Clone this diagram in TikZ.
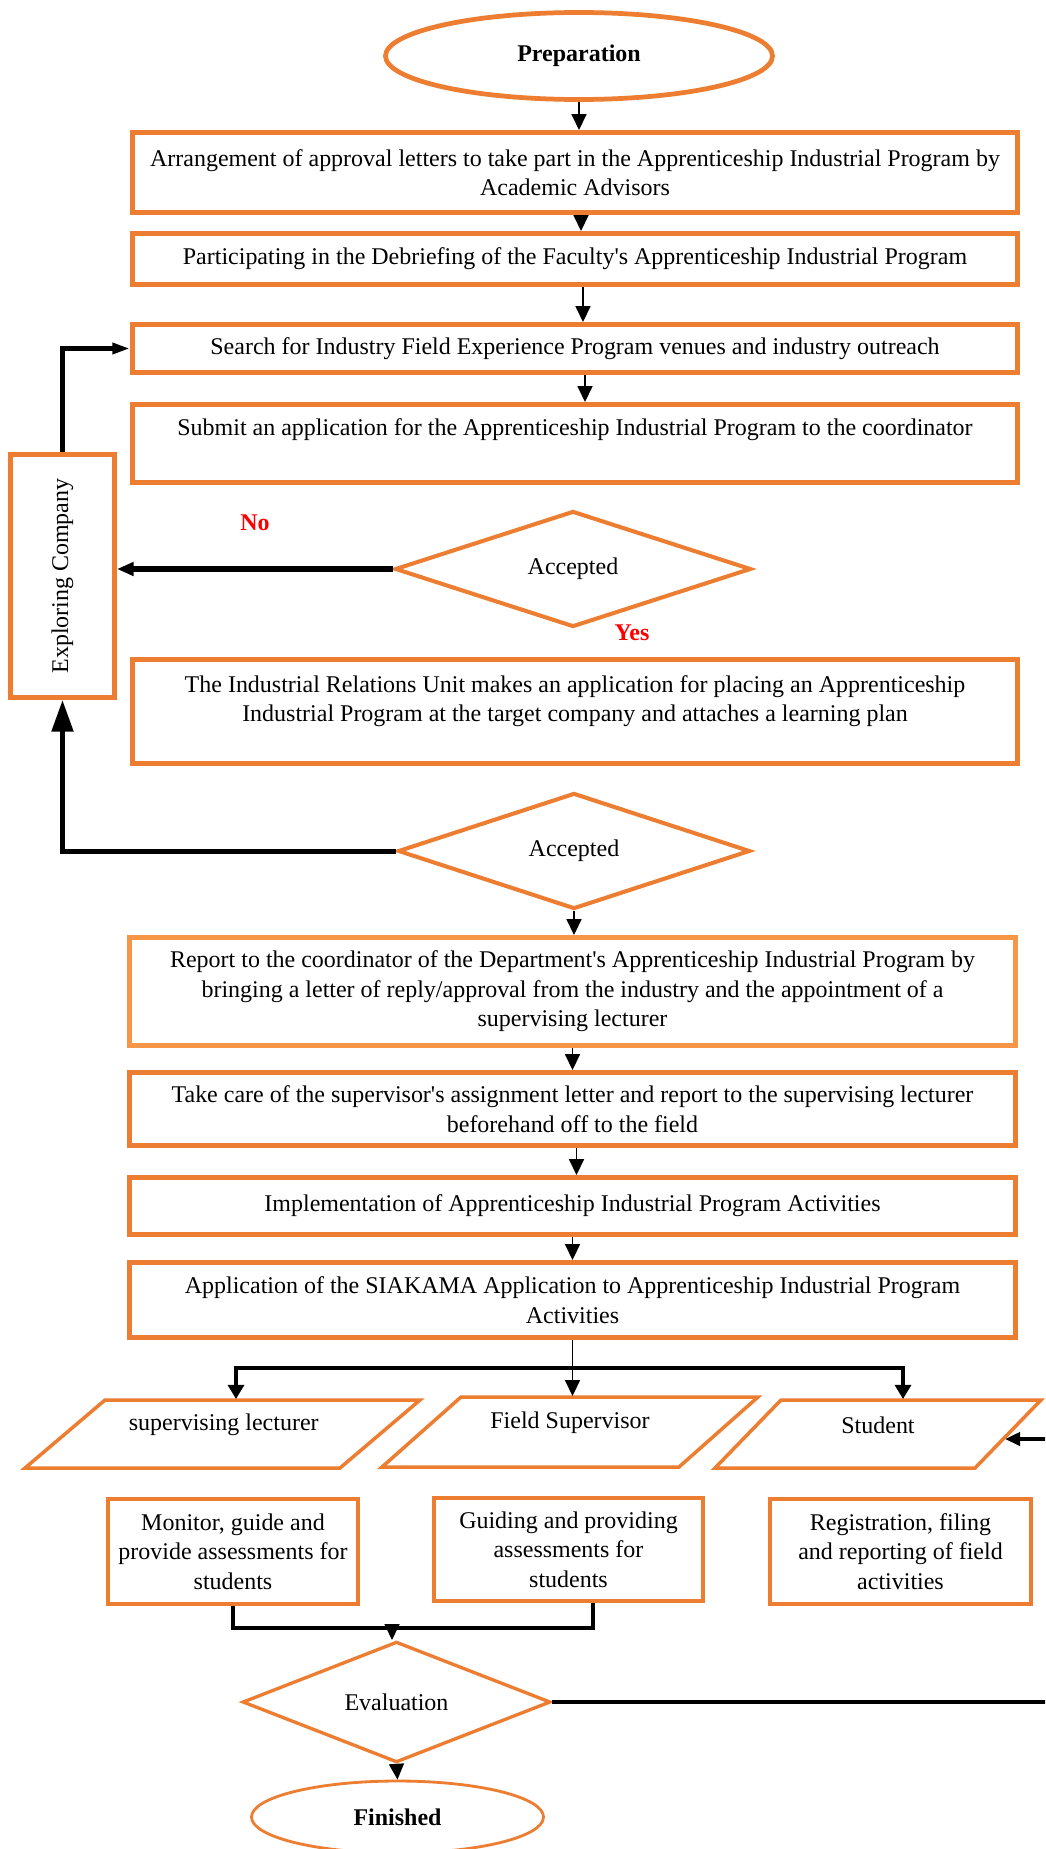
\documentclass[tikz,border=0pt]{standalone}
\usepackage{graphicx}
\usepackage{fontspec}
\setmainfont{Liberation Serif}
\usetikzlibrary{shapes.geometric,arrows.meta,calc}
\definecolor{orA}{HTML}{ED7D31}
\definecolor{orB}{HTML}{F79646}
\definecolor{redT}{HTML}{FF0000}
\def\pxu{0.02cm}
\newcommand\upby[2]{\raisebox{#1}[\height][\depth]{#2}}
\newcommand\apo{\textquotesingle}
\begin{document}
\begin{tikzpicture}[x=0.02cm,y=-0.02cm,
  every node/.style={font=\fontsize{13.65}{16.8}\selectfont},
  box/.style={draw=orA, line width=2.85pt, rectangle, align=center, inner sep=0pt, minimum width=885*\pxu},
  sbox/.style={draw=orA, line width=2pt, rectangle, align=center, inner sep=0pt},
  term/.style={ellipse, draw=orA, inner sep=0pt, font=\fontsize{13.65}{16.8}\selectfont\bfseries},
  dec/.style={diamond, draw=orA, line width=2.3pt, inner sep=0pt},
  io/.style={rectangle, inner sep=0pt, outer sep=0pt},
  ioline/.style={draw=orA, line width=2pt, line join=miter},
  tarr/.style={line width=0.85pt, -{Triangle[length=9pt,width=8.5pt]}},
  lbl/.style={text=redT, font=\fontsize{13.65}{16.8}\selectfont\bfseries}
]
\useasboundingbox (0,0) rectangle (1045,1849);
\clip (0,0) rectangle (1045,1849);
\fill[white] (0,0) rectangle (1045,1849);

% nodes
\node[term, line width=2.7pt, minimum width=387*\pxu, minimum height=87*\pxu] (prep) at (579,56) {Preparation};
\node[box, minimum height=80*\pxu] (b1) at (575,172.5) {Arrangement of approval letters to take part in the Apprenticeship Industrial Program by\\Academic Advisors};
\node[box, minimum height=51*\pxu] (b2) at (575,259) {Participating in the Debriefing of the Faculty\apo s Apprenticeship Industrial Program};
\node[box, minimum height=48*\pxu] (b3) at (575,348.5) {Search for Industry Field Experience Program venues and industry outreach};
\node[box, minimum height=78*\pxu] (b4) at (575,443.5) {\upby{0.27cm}{Submit an application for the Apprenticeship Industrial Program to the coordinator}};
\node[box, minimum width=104*\pxu, minimum height=243*\pxu] (exp) at (62.5,576) {\rotatebox{90}{Exploring Company}};
\node[dec, minimum width=356*\pxu, minimum height=116*\pxu] (d1) at (573,569) {Accepted};
\node[box, minimum height=104*\pxu] (b5) at (575,711.5) {\upby{0.21cm}{\begin{tabular}{@{}c@{}}The Industrial Relations Unit makes an application for placing an Apprenticeship\\Industrial Program at the target company and attaches a learning plan\end{tabular}}};
\node[dec, minimum width=352*\pxu, minimum height=116*\pxu] (d2) at (574,851) {Accepted};
\node[box, draw=orB, minimum width=886*\pxu, minimum height=108*\pxu] (b6) at (572.5,991.5) {Report to the coordinator of the Department\apo s Apprenticeship Industrial Program by\\bringing a letter of reply/approval from the industry and the appointment of a\\supervising lecturer};
\node[box, minimum width=886*\pxu, minimum height=73*\pxu] (b7) at (572.5,1109) {Take care of the supervisor\apo s assignment letter and report to the supervising lecturer\\beforehand off to the field};
\node[box, minimum width=886*\pxu, minimum height=57*\pxu] (b8) at (572.5,1206) {Implementation of Apprenticeship Industrial Program Activities};
\node[box, minimum width=886*\pxu, minimum height=75*\pxu] (b9) at (572.5,1300) {Application of the SIAKAMA Application to Apprenticeship Industrial Program\\Activities};

% parallelograms
\node[io, minimum width=395*\pxu, minimum height=68*\pxu] (p1) at (222.5,1434) {\upby{0.18cm}{\hspace{0.05cm}supervising lecturer}};
\draw[ioline] (p1.south west) -- ([xshift=80*\pxu]p1.north west) -- (p1.north east) -- ([xshift=-80*\pxu]p1.south east) -- cycle;
\node[io, minimum width=376*\pxu, minimum height=70*\pxu] (p2) at (570,1432) {\upby{0.19cm}{Field Supervisor}};
\draw[ioline] (p2.south west) -- ([xshift=79*\pxu]p2.north west) -- (p2.north east) -- ([xshift=-79*\pxu]p2.south east) -- cycle;
\node[io, minimum width=326*\pxu, minimum height=68*\pxu] (p3) at (878,1434) {\upby{0.18cm}{Student}};
\draw[ioline] (p3.south west) -- ([xshift=66*\pxu]p3.north west) -- (p3.north east) -- ([xshift=-66*\pxu]p3.south east) -- cycle;
\coordinate (p3in) at ($(p3.north east)!0.574!([xshift=-66*\pxu]p3.south east)$);

\node[sbox, minimum width=250*\pxu, minimum height=105*\pxu] (b10) at (233,1551.5) {Monitor, guide and\\provide assessments for\\students};
\node[sbox, minimum width=269*\pxu, minimum height=103*\pxu] (b11) at (568.5,1549.5) {Guiding and providing\\assessments for\\students};
\node[sbox, minimum width=261*\pxu, minimum height=105*\pxu] (b12) at (900.5,1551.5) {Registration, filing\\and reporting of field\\activities};

\node[dec, line width=1.9pt, minimum width=308*\pxu, minimum height=105*\pxu] (ev) at (396.5,1702) {Evaluation};
\node[term, line width=1.6pt, minimum width=292*\pxu, minimum height=72*\pxu] (fin) at (397.5,1817) {Finished};

\node[lbl] (no) at (255,523) {No};
\node[lbl] (yes) at (632,633) {Yes};

% connectors
\draw[tarr] (prep.south) -- (prep.south |- b1.north);
\draw[tarr] ([xshift=6*\pxu]b1.south) -- ([xshift=6*\pxu]b2.north);
\draw[tarr] ([xshift=8*\pxu]b2.south) -- ([xshift=8*\pxu]b3.north);
\draw[tarr] ([xshift=10*\pxu]b3.south) -- ([xshift=10*\pxu]b4.north);
\draw[line width=3pt, -{Triangle[length=9.5pt,width=7.5pt]}] (d1.west) -- (d1.west -| exp.east);
\draw[line width=2.85pt, -{Triangle[length=10pt,width=6pt]}] (exp.north) |- (b3.west);
\draw[line width=2.85pt, -{Triangle[length=18pt,width=12pt]}] (d2.west) -| (exp.south);
\draw[tarr] (d2.south) -- (d2.south |- b6.north);
\draw[tarr] (b6.south) -- (b6.south |- b7.north);
\draw[tarr] ([xshift=4*\pxu]b7.south) -- ([xshift=4*\pxu]b8.north);
\draw[tarr] (b8.south) -- (b8.south |- b9.north);

\coordinate (br) at (572.5,1368);
\coordinate (brL) at (236,1368);
\coordinate (brR) at (903,1368);
\draw[line width=0.85pt] (b9.south) -- (br);
\draw[line width=2.3pt, {Triangle[length=8pt,width=9pt]}-{Triangle[length=8pt,width=9pt]}] ([yshift=0.02cm]brL |- p1.north) -- (brL) -- (brR) -- ([yshift=0.02cm]brR |- p3.north);
\draw[tarr] (br) -- ([yshift=0.02cm]br |- p2.north);

\coordinate (mg) at (392,1628);
\coordinate (mgR) at (593,1628);
\draw[line width=2pt] (b10.south) |- (mgR) -- (mgR |- b11.south);
\draw[tarr] (mg) -- (mg |- ev.north);
\draw[tarr] (ev.south) -- (fin.north);
\coordinate (offR) at (1080,1702);
\draw[line width=2.1pt, -{Triangle[length=8.5pt,width=7.5pt]}] (ev.east) -- (offR) |- ([xshift=0.04cm]p3in);
\end{tikzpicture}
\end{document}
